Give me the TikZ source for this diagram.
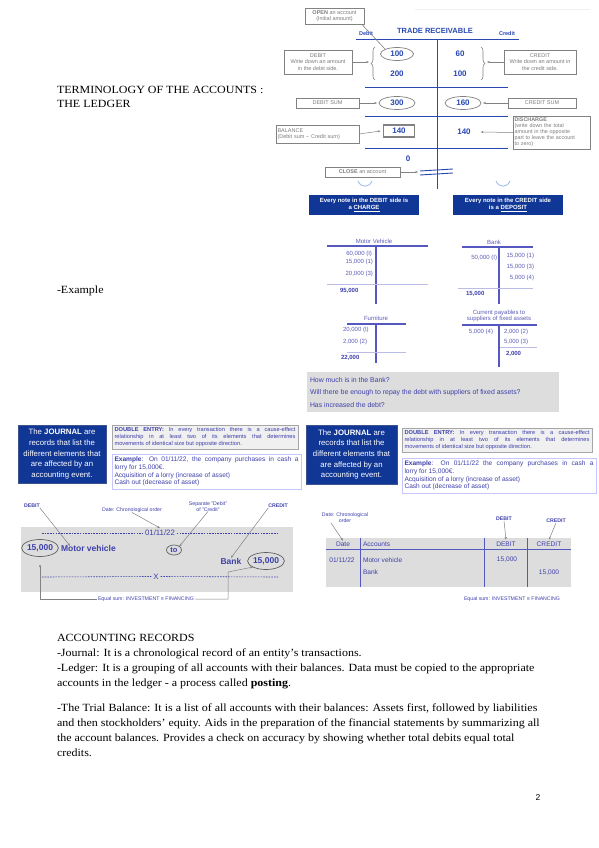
\documentclass[tikz,border=0pt]{standalone}
\usepackage{fontspec}
\setmainfont{Liberation Serif}
\setsansfont{Liberation Sans}
\usetikzlibrary{arrows.meta,shapes.geometric,decorations.pathreplacing}
\definecolor{tblue}{RGB}{40,72,180}
\definecolor{boxblue}{RGB}{16,54,150}
\definecolor{gtext}{RGB}{125,125,125}
\definecolor{gline}{RGB}{130,130,130}
\definecolor{jblue}{RGB}{62,64,170}
\definecolor{jline}{RGB}{85,88,190}
\definecolor{lgray}{RGB}{221,221,221}
\definecolor{arcblue}{RGB}{160,190,235}
\newcommand{\myfs}[2]{\fontsize{#1}{#2}\selectfont}
\begin{document}
\begin{tikzpicture}[x=1pt,y=-1pt]
\tikzset{
  every node/.style={inner sep=0pt, outer sep=0pt},
  body/.style={anchor=base west, font=\myfs{11}{12}, xscale=1.09, transform shape},
  gbox/.style={draw=gline, line width=0.7pt, fill=white, text=gtext, align=center, font=\sffamily\myfs{5.5}{6.3}, inner sep=1pt},
  tnum/.style={text=tblue, font=\sffamily\bfseries\myfs{8}{9}},
  tlab/.style={text=tblue, font=\sffamily\bfseries\myfs{5.5}{6}},
  ell/.style={ellipse, draw=gline, line width=0.7pt, tnum},
  tline/.style={draw=tblue, line width=0.9pt},
  garrow/.style={draw=gline, line width=0.5pt, -{Stealth[length=2.8pt,width=2.2pt]}},
  bluebox/.style={fill=boxblue, text=white, align=center, font=\sffamily\bfseries\myfs{6}{7.4}},
  jt/.style={text=jblue!85, font=\sffamily\myfs{6}{6.8}},
  jtb/.style={text=jblue, font=\sffamily\bfseries\myfs{6}{6.8}},
  jl/.style={draw=jline, line width=1.1pt},
  jthin/.style={draw=jline!40, line width=0.5pt},
  jbox/.style={fill=boxblue, draw=boxblue!60!gray, line width=0.6pt, text=white, align=center, font=\sffamily\myfs{7.8}{10.7}},
  debox/.style={fill=gray!12, draw=gray!70, line width=0.8pt, text=jblue, align=justify, font=\sffamily\myfs{5.7}{6.8}, inner sep=2.5pt},
  exbox/.style={fill=white, draw=blue!22, line width=0.7pt, text=jblue, align=justify, font=\sffamily\myfs{6.6}{7.6}, inner sep=2.5pt},
  lab/.style={text=jblue, font=\sffamily\myfs{5.2}{6}, align=center},
  labb/.style={text=jblue, font=\sffamily\bfseries\myfs{5.2}{6}, align=center},
  big/.style={text=jblue, font=\sffamily\bfseries\myfs{8.5}{9}},
  jell/.style={ellipse, draw=gray!75!black, line width=0.7pt, big},
  jdash/.style={draw=jblue, line width=0.6pt, dash pattern=on 1.6pt off 1.1pt},
  tt/.style={text=jblue, font=\sffamily\myfs{6.6}{7}},
  tv/.style={draw=jline, line width=0.5pt},
  qt/.style={text=jblue, anchor=west, font=\sffamily\myfs{6.9}{7.5}}
}
\fill[white] (0,0) rectangle (599,848);
\useasboundingbox (0,0) rectangle (599,848);

% ---------- left headings
\node[body] (tt1) at (57,94) {TERMINOLOGY OF THE ACCOUNTS :};
\node[body] (tt2) at (57,108) {THE LEDGER};
\node[body] (exm) at (57,293) {-Example};

% ---------- T account TRADE RECEIVABLE
\draw[gray!12, line width=0.8pt] (415,9) -- (590,9);
\draw[tline] (356,39) -- (519,39);
\draw[tline] (437,39) -- (437,189);
\draw[tline] (365,87) -- (508,87);
\draw[tline] (365,116) -- (508,116);
\draw[tline] (365,148) -- (508,148);

\node[tlab] (hdeb) at (366,34) {Debit};
\node[text=tblue, font=\sffamily\bfseries\myfs{7.5}{8}] (htr) at (435,31) {TRADE RECEIVABLE};
\node[tlab] (hcred) at (507,34) {Credit};

\node[ell, minimum width=33, minimum height=13] (e100) at (397,54) {100};
\node[tnum] (n60) at (460,54) {60};
\node[tnum] (n200) at (397,74) {200};
\node[tnum] (n100) at (460,74) {100};
\draw[gline, line width=0.6pt, decorate, decoration={brace, amplitude=4pt}] (375,80) -- (375,47);
\draw[gline, line width=0.6pt, decorate, decoration={brace, amplitude=4pt}] (481,47) -- (481,80);
\coordinate (lbr) at (369,62);
\coordinate (rbr) at (487,62);

\node[gbox, minimum width=59, minimum height=16] (open) at (334.5,16.5) {\textbf{OPEN} an account\\(Initial amount)};
\draw[gline, line width=0.6pt] ([xshift=-2pt]open.south east) -- (e100.north west);

\node[gbox, minimum width=68, minimum height=24] (dbox) at (318,62) {DEBIT\\Write down an amount\\in the debit side.};
\node[gbox, minimum width=72, minimum height=24] (cbox) at (540,62) {CREDIT\\Write down an amount in\\the credit side.};
\draw[garrow] (dbox.east) -- (lbr);
\draw[garrow] (cbox.west) -- (rbr);

\node[ell, minimum width=36, minimum height=13] (e300) at (397,103) {300};
\node[ell, minimum width=36, minimum height=13] (e160) at (463,103) {160};
\node[gbox, minimum width=63, minimum height=10] (dsum) at (327.5,103) {DEBIT SUM};
\node[gbox, minimum width=68, minimum height=10] (csum) at (542,103) {CREDIT SUM};
\draw[garrow] (dsum.east) -- ([xshift=-2pt]e300.west);
\draw[garrow] (csum.west) -- ([xshift=2pt]e160.east);

\node[draw=gline, line width=1.3pt, minimum width=31, minimum height=12, tnum] (b140) at (399,131) {140};
\node[tnum] (c140) at (464,132) {140};
\node[gbox, align=left, text width=80, minimum height=18, inner sep=1.5pt] (bal) at (317.5,134) {BALANCE\\(Debit sum -- Credit sum)};
\draw[garrow] (bal.east) -- ([xshift=-3pt]b140.west);
\node[gbox, align=left, text width=74, minimum height=33, inner sep=1.5pt, font=\sffamily\myfs{5.4}{6}] (dis) at (551.5,132.5) {\textbf{DISCHARGE}\\(write down the total\\amount in the opposite\\part to leave the account\\to zero)};
\draw[garrow] (dis.west) -- ([xshift=10pt]c140.east);

\node[tnum] (zero) at (408,159) {0};
\node[gbox, minimum width=75, minimum height=10] (close) at (362.5,172) {\textbf{CLOSE} an account};
\coordinate (clp) at (418,172);
\draw[garrow] (close.east) -- (clp);
\draw[tline] (420,171) -- (453,169);
\draw[tline] (420,175) -- (453,173);

\draw[arcblue, line width=0.9pt] (358,181) .. controls (361,188) and (369,188) .. (372,181);
\draw[arcblue, line width=0.9pt] (496,181) .. controls (499,188) and (507,188) .. (510,181);

\node[bluebox, minimum width=110, minimum height=20] (chg) at (364,205) {Every note in the DEBIT side is\\a \underline{CHARGE}};
\node[bluebox, minimum width=110, minimum height=20] (dep) at (508,205) {Every note in the CREDIT side\\is a \underline{DEPOSIT}};

% ---------- example T accounts
\node[jt] (tmv) at (374,241) {Motor Vehicle};
\draw[jl] (327,246) -- (428,246);
\draw[jl] (376,246) -- (376,304);
\draw[jthin] (327,284) -- (428,284);
\node[jt, anchor=east] (mv1) at (372,254) {60,000 (I)};
\node[jt, anchor=east] (mv2) at (373,262) {15,000 (1)};
\node[jt, anchor=east] (mv3) at (373,274) {20,000 (3)};
\node[jtb, anchor=west] (mvt) at (340,291) {95,000};

\node[jt] (tbk) at (494,242) {Bank};
\draw[jl] (462,247) -- (533,247);
\draw[jl] (499,247) -- (499,304);
\draw[jthin] (458,288) -- (533,288);
\node[jt, anchor=east] (bk1) at (497,258) {50,000 (I)};
\node[jt, anchor=east] (bk2) at (534,256) {15,000 (1)};
\node[jt, anchor=east] (bk3) at (534,267) {15,000 (3)};
\node[jt, anchor=east] (bk4) at (534,278) {5,000 (4)};
\node[jtb, anchor=west] (bkt) at (466,294) {15,000};

\node[jt] (tfu) at (376,318) {Furniture};
\draw[jl] (347,324) -- (406,324);
\draw[jl] (376,324) -- (376,363);
\draw[jthin] (347,352) -- (406,352);
\node[jt, anchor=west] (fu1) at (343,330) {20,000 (I)};
\node[jt, anchor=west] (fu2) at (343,342) {2,000 (2)};
\node[jtb, anchor=west] (fut) at (341,358) {22,000};

\node[jt, align=center] (tcp) at (499,316) {Current payables to\\suppliers of fixed assets};
\draw[jl] (462,325) -- (537,325);
\draw[jl] (499,325) -- (499,367);
\draw[jthin] (500,347) -- (537,347);
\node[jt, anchor=east] (cp1) at (493,332) {5,000 (4)};
\node[jt, anchor=west] (cp2) at (504,332) {2,000 (2)};
\node[jt, anchor=west] (cp3) at (504,342) {5,000 (3)};
\node[jtb, anchor=west] (cpt) at (506,354) {2,000};

\node[fill=lgray, minimum width=252, minimum height=40] (qb) at (433,392) {};
\node[qt] (q1) at (310,380) {How much is in the Bank?};
\node[qt] (q2) at (310,393) {Will there be enough to repay the debt with suppliers of fixed assets?};
\node[qt] (q3) at (310,405) {Has increased the debt?};

% ---------- journal boxes
\node[jbox, minimum width=88, minimum height=58] (jb1) at (62,454) {The \textbf{JOURNAL} are\\records that list the\\different elements that\\are affected by an\\accounting event.};
\node[debox, text width=181, minimum height=24] (de1) at (205,437) {\textbf{DOUBLE ENTRY:} In every transaction there is a cause-effect\linebreak relationship in at least two of its elements that determines\linebreak movements of identical size but opposite direction.};
\node[exbox, text width=184, minimum height=35] (ex1) at (206.5,471.5) {\textbf{Example}: On 01/11/22, the company purchases in cash a\linebreak lorry for 15,000€.\\Acquisition of a lorry (increase of asset)\\Cash out (decrease of asset)};

\node[jbox, minimum width=91, minimum height=59] (jb2) at (351.5,454.5) {The \textbf{JOURNAL} are\\records that list the\\different elements that\\are affected by an\\accounting event.};
\node[debox, text width=185, minimum height=24] (de2) at (497,440) {\textbf{DOUBLE ENTRY:} In every transaction there is a cause-effect\linebreak relationship in at least two of its elements that determines\linebreak movements of identical size but opposite direction.};
\node[exbox, text width=189, minimum height=35] (ex2) at (499,475.5) {\textbf{Example}: On 01/11/22 the company purchases in cash a\linebreak lorry for 15,000€.\\Acquisition of a lorry (increase of asset)\\Cash out (decrease of asset)};

% ---------- journal entry (left)
\node[fill=lgray, minimum width=272, minimum height=65] (jbg) at (157,559.5) {};
\node[text=jblue, font=\sffamily\myfs{7.8}{8}, inner sep=2pt] (d1) at (160,533) {01/11/22};
\draw[jdash] (42,533) -- (d1.west);
\draw[jdash] (d1.east) -- (278,533);
\node[jell, minimum width=35, minimum height=17] (e1) at (40,548) {15,000};
\node[big, anchor=west] (mv) at (61,548) {Motor vehicle};
\node[ellipse, draw=gray!75!black, line width=0.7pt, minimum width=15, minimum height=10, big, font=\sffamily\bfseries\myfs{7.5}{8}] (to) at (174,550) {to};
\node[big] (bank) at (231,561) {Bank};
\node[jell, minimum width=35, minimum height=17] (e2) at (266,561) {15,000};
\node[text=jblue, font=\sffamily\myfs{7.8}{8}, inner sep=2pt] (xx) at (156,576.5) {X};
\draw[jdash] (42,577) -- (xx.west);
\draw[jdash] (xx.east) -- (278,577);

\node[labb] (ldeb) at (32,506) {DEBIT};
\node[lab] (ldate) at (132,510) {Date: Chronological order};
\node[lab] (lsep) at (208,506.5) {Separate "Debit"\\of "Credit"};
\node[labb] (lcred) at (278,506) {CREDIT};
\draw[garrow] (ldeb.south east) -- ([xshift=9pt,yshift=-1pt]mv.north west);
\draw[garrow] (ldate.south) -- (d1.north);
\draw[garrow] (lsep.south) -- (to.north east);
\draw[garrow] (lcred.south west) -- (bank.north);

\node[lab, inner sep=1.5pt] (eq1) at (146,599) {Equal sum: INVESTMENT ≡ FINANCING};
\draw[garrow] (eq1.west) -| ([yshift=-8pt]e1.south);
\coordinate (eqk) at (228,572);
\draw[garrow] (eq1.east) -| (eqk) -- (e2.south west);

% ---------- journal table (right)
\node[fill=lgray, minimum width=245, minimum height=49] (tbg) at (448.5,562.5) {};
\draw[tv] (326,549) -- (571,549);
\draw[tv] (360,538) -- (360,587);
\draw[tv] (484,538) -- (484,587);
\draw[tv] (527,538) -- (527,587);
\node[tt] (hdate) at (343,544) {Date};
\node[tt, anchor=west] (hacc) at (363,544) {Accounts};
\node[tt] (hdebit) at (506,544) {DEBIT};
\node[tt] (hcredit) at (549,544) {CREDIT};
\node[tt] (r1d) at (342,560) {01/11/22};
\node[tt, anchor=west] (r1a) at (363,560) {Motor vehicle};
\node[tt] (r1v) at (507,560) {15,000};
\node[tt, anchor=west] (r2a) at (363,572) {Bank};
\node[tt] (r2v) at (549,573) {15,000};

\node[lab] (ldate2) at (345,518) {Date: Chronological\\order};
\node[labb] (ldeb2) at (504,519) {DEBIT};
\node[labb] (lcred2) at (556,521) {CREDIT};
\draw[garrow] ([xshift=-14pt]ldate2.south) -- ([yshift=1pt]hdate.north);
\draw[garrow] (ldeb2.south) -- ([yshift=2pt]hdebit.north);
\draw[garrow] (lcred2.south) -- ([yshift=2pt]hcredit.north);
\node[lab] (eq2) at (512,599) {Equal sum: INVESTMENT ≡ FINANCING};

% ---------- body text
\node[body] (b1) at (57,641) {ACCOUNTING RECORDS};
\node[body] (b2) at (57,656) {-Journal: It is a chronological record of an entity’s transactions.};
\node[body] (b3) at (57,671) {-Ledger: It is a grouping of all accounts with their balances. Data must be copied to the appropriate};
\node[body] (b4) at (57,686) {accounts in the ledger - a process called \textbf{posting}.};
\node[body] (b5) at (57,711) {-The Trial Balance: It is a list of all accounts with their balances: Assets first, followed by liabilities};
\node[body] (b6) at (57,726) {and then stockholders’ equity. Aids in the preparation of the financial statements by summarizing all};
\node[body] (b7) at (57,741) {the account balances. Provides a check on accuracy by showing whether total debits equal total};
\node[body] (b8) at (57,756) {credits.};
\node[font=\sffamily\myfs{8.5}{9}] (pg) at (538,798) {2};
\end{tikzpicture}
\end{document}
